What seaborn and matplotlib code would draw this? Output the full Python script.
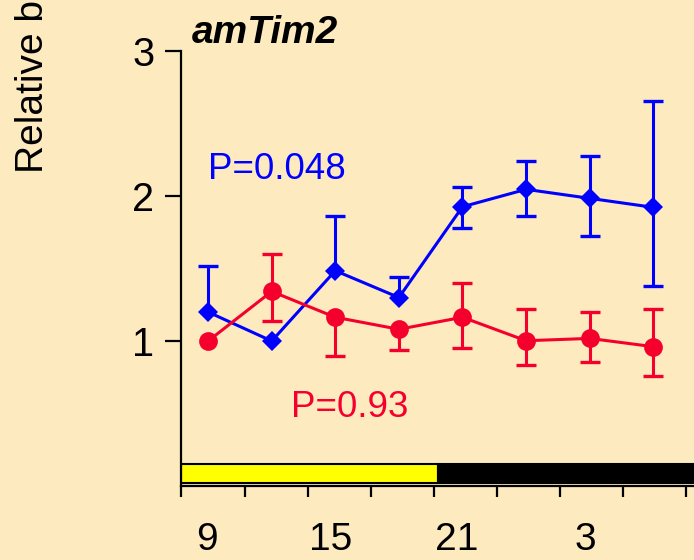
import numpy as np
import pandas as pd
import matplotlib
matplotlib.use("Agg")
import matplotlib.pyplot as plt
import seaborn as sns

# ---- data ----
hours = [9, 12, 15, 18, 21, 24, 27, 30]
blue_mean = [1.20, 1.00, 1.485, 1.30, 1.926, 2.046, 1.984, 1.922]
blue_hi = [1.52, np.nan, 1.864, 1.441, 2.062, 2.242, 2.279, 2.657]
blue_lo = [np.nan, np.nan, np.nan, np.nan, 1.78, 1.861, 1.721, 1.378]
red_mean = [1.00, 1.342, 1.164, 1.081, 1.164, 1.002, 1.018, 0.961]
red_hi = [np.nan, 1.60, np.nan, np.nan, 1.40, 1.22, 1.199, 1.219]
red_lo = [np.nan, 1.139, 0.896, 0.938, 0.954, 0.838, 0.858, 0.757]
xtick_labels = ["9", "15", "21", "3"]
ytick_values = [1, 2, 3]
light_phase = (7.745, 19.86)
dark_phase = (19.86, 31.9)
title = "amTim2"
ylabel = "Relative bioluminescence"
p_blue = "P=0.048"
p_red = "P=0.93"

BG = "#FDEBBF"
BLUE = "#0000FF"
RED = "#F5002D"

sns.set_theme(style="ticks")
plt.rcParams["font.family"] = ["Liberation Sans", "DejaVu Sans"]
plt.rcParams["text.color"] = "black"
plt.rcParams["xtick.color"] = "black"
plt.rcParams["ytick.color"] = "black"
plt.rcParams["axes.labelcolor"] = "black"

df = pd.DataFrame({
    "hour": hours * 2,
    "value": blue_mean + red_mean,
    "series": ["blue"] * len(hours) + ["red"] * len(hours),
})

fig = plt.figure(figsize=(6.94, 5.6), dpi=100, facecolor=BG)
ax = fig.add_axes([0.2615, 0.1321, 0.7385, 0.7768])
ax.set_facecolor(BG)

# light/dark bar
ax.barh(0.085, light_phase[1] - light_phase[0], left=light_phase[0], height=0.13,
        color="#FFFF00", edgecolor="black", linewidth=1.5, zorder=2)
ax.barh(0.085, dark_phase[1] - dark_phase[0], left=dark_phase[0], height=0.13,
        color="black", edgecolor="black", linewidth=1.5, zorder=2)

# error bars (one-sided where only one side is visible)
x = np.array(hours, dtype=float)
for mean, hi, lo, c in [(blue_mean, blue_hi, blue_lo, BLUE), (red_mean, red_hi, red_lo, RED)]:
    mean = np.array(mean); hi = np.array(hi); lo = np.array(lo)
    for end in (hi, lo):
        m = ~np.isnan(end)
        ax.vlines(x[m], mean[m], end[m], color=c, lw=2.2, zorder=3)
        ax.plot(x[m], end[m], ls="none", marker="_", ms=14, mew=2.4, color=c, zorder=3)

sns.lineplot(data=df, x="hour", y="value", hue="series", style="series",
             palette={"blue": BLUE, "red": RED}, markers={"blue": "D", "red": "o"},
             dashes=False, lw=2.2, markeredgewidth=0, legend=False, ax=ax, zorder=4)
lines = ax.get_lines()
for ln in lines[-2:]:
    if ln.get_marker() == "D":
        ln.set_markersize(10)
    else:
        ln.set_markersize(13.5)

ax.set_xlim(7.745, 31.92)
ax.set_ylim(0, 3)
ax.set_yticks(ytick_values)
ax.set_yticklabels([str(v) for v in ytick_values])
ax.set_xticks([8.95, 14.8, 20.72, 26.8])
ax.set_xticklabels(xtick_labels)
ax.set_xticks(np.linspace(7.745, 31.56, 9), minor=True)
ax.tick_params(axis="x", which="major", length=0, pad=26, labelsize=28, colors="black")
ax.tick_params(axis="x", which="minor", length=8, width=1.6, color="black", direction="out")
ax.tick_params(axis="y", length=11.5, width=1.6, pad=8, labelsize=28.5, colors="black")
ax.set_xlabel("")
ax.set_ylabel("")
for s in ["top", "right"]:
    ax.spines[s].set_visible(False)
for s in ["left", "bottom"]:
    ax.spines[s].set_linewidth(1.6)
    ax.spines[s].set_color("black")

ax.text(9.0, 2.117, p_blue, color=BLUE, fontsize=26.5, ha="left", va="baseline")
ax.text(12.9, 0.474, p_red, color=RED, fontsize=26.5, ha="left", va="baseline")

fig.text(0.276, 0.9238, title, fontsize=28, fontweight="bold", fontstyle="italic",
         color="black", ha="left", va="baseline")
fig.text(0.0735, 0.691, ylabel, rotation=90, fontsize=28, color="black",
         ha="right", va="bottom")

fig.savefig("out.png", dpi=100, facecolor=BG)
